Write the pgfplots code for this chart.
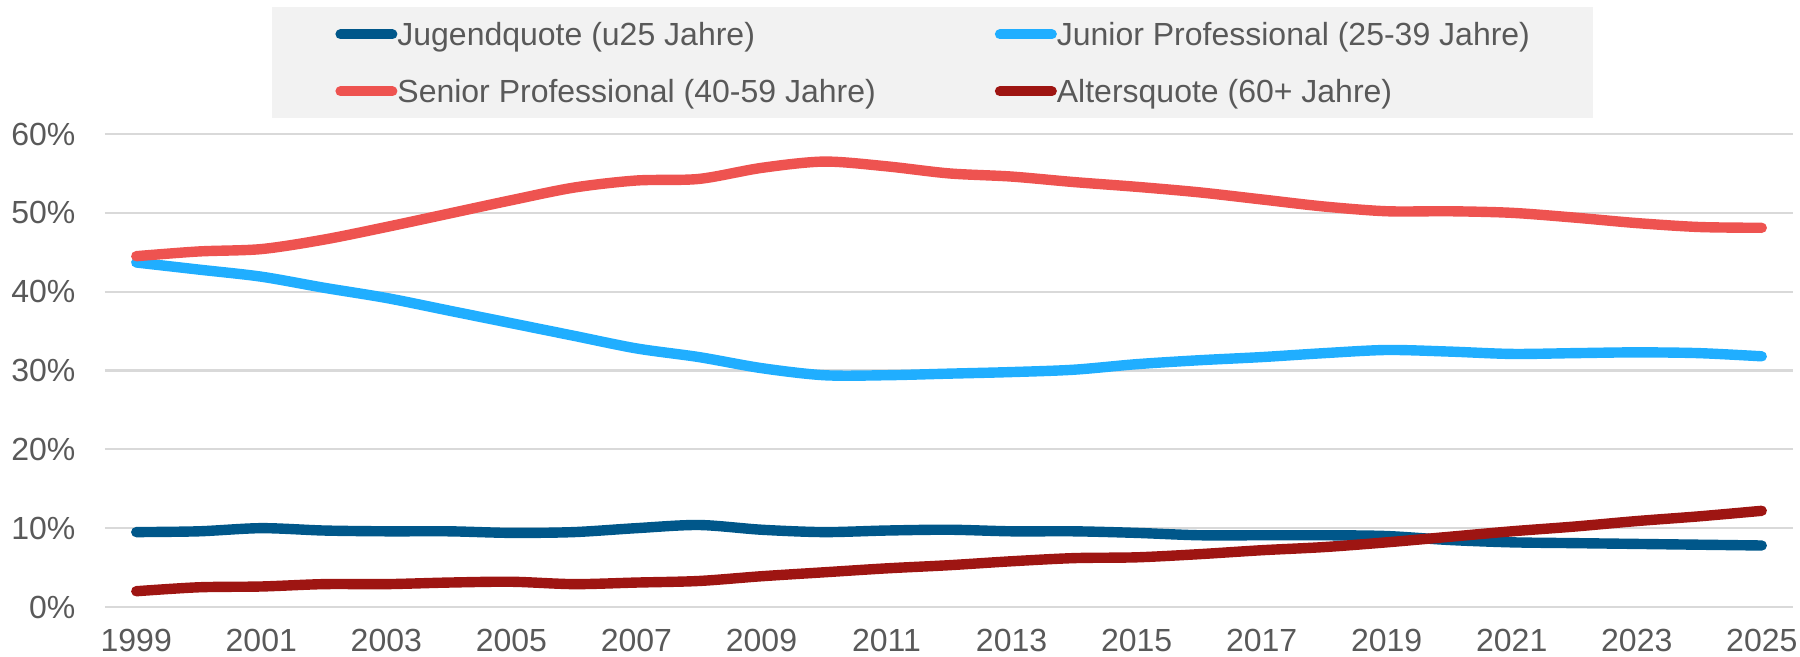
\documentclass[border=0pt]{standalone}
\usepackage{fontspec}
\setmainfont{Liberation Sans}
\usepackage{pgfplots}
\pgfplotsset{compat=1.18}
\definecolor{jug}{HTML}{00578A}
\definecolor{jun}{HTML}{20AEFF}
\definecolor{sen}{HTML}{EE5350}
\definecolor{alt}{HTML}{9E1512}
\definecolor{txt}{HTML}{595959}
\definecolor{grd}{HTML}{D9D9D9}
\definecolor{lgbg}{HTML}{F2F2F2}
\begin{document}
\begin{tikzpicture}
\path[use as bounding box] (0,0) rectangle (900pt,328.5pt);
\fill[lgbg] (135.8pt,269.5pt) rectangle (796.6pt,325.1pt);
\begin{axis}[
  at={(52.5pt,25pt)}, anchor=south west,
  scale only axis, width=844pt, height=236.5pt,
  xmin=1998.5, xmax=2025.5, ymin=0, ymax=60,
  axis lines*=left, axis line style={draw=none},
  major tick length=0pt,
  xtick={1999,2001,...,2025},
  ytick={0,10,...,60},
  ymajorgrids, grid style={grd, line width=1.1pt},
  tick label style={text=txt, font=\fontsize{16pt}{19pt}\selectfont},
  /pgf/number format/assume math mode=true,
  /pgf/number format/set thousands separator={},
  xticklabel style={anchor=north, inner ysep=0pt, yshift=-11pt},
  yticklabel style={anchor=east, inner xsep=0pt, xshift=-14.6pt},
  yticklabel={\pgfmathprintnumber{\tick}\%},
  legend columns=2,
  legend cell align=left,
  legend style={at={(0.13626,1.2529)}, anchor=north west, draw=none, fill=none,
    inner sep=0pt, row sep=8.9pt, column sep=0pt,
    font=\fontsize{16pt}{19pt}\selectfont, text=txt,
    nodes={inner xsep=0pt, text height=13.5pt, text depth=2.1pt},
    /tikz/every even column/.append style={column sep=59.5pt}},
  legend image code/.code={%
    \draw[line width=5pt, line cap=round] (2.5pt,0pt) -- (28.5pt,0pt);},
  every axis plot/.append style={line width=5.2pt, line cap=round, line join=round, smooth},
]
\addplot[jug] coordinates {
(1999,9.5)(2000,9.6)(2001,10.0)(2002,9.7)(2003,9.6)(2004,9.6)(2005,9.4)(2006,9.5)
(2007,10.0)(2008,10.4)(2009,9.8)(2010,9.5)(2011,9.7)(2012,9.8)(2013,9.6)(2014,9.6)
(2015,9.4)(2016,9.1)(2017,9.1)(2018,9.1)(2019,9.0)(2020,8.5)(2021,8.2)(2022,8.1)
(2023,8.0)(2024,7.9)(2025,7.8)};
\addlegendentry{Jugendquote (u25 Jahre)}
\addplot[jun] coordinates {
(1999,43.7)(2000,42.8)(2001,41.9)(2002,40.5)(2003,39.2)(2004,37.6)(2005,36.0)(2006,34.4)
(2007,32.8)(2008,31.7)(2009,30.3)(2010,29.4)(2011,29.4)(2012,29.6)(2013,29.8)(2014,30.1)
(2015,30.8)(2016,31.3)(2017,31.7)(2018,32.2)(2019,32.6)(2020,32.4)(2021,32.1)(2022,32.2)
(2023,32.3)(2024,32.2)(2025,31.8)};
\addlegendentry{Junior Professional (25-39 Jahre)}
\addplot[sen] coordinates {
(1999,44.5)(2000,45.1)(2001,45.4)(2002,46.6)(2003,48.2)(2004,49.9)(2005,51.6)(2006,53.2)
(2007,54.1)(2008,54.3)(2009,55.7)(2010,56.5)(2011,55.9)(2012,55.0)(2013,54.6)(2014,53.9)
(2015,53.3)(2016,52.6)(2017,51.7)(2018,50.8)(2019,50.2)(2020,50.2)(2021,50.0)(2022,49.4)
(2023,48.7)(2024,48.2)(2025,48.1)};
\addlegendentry{Senior Professional (40-59 Jahre)}
\addplot[alt] coordinates {
(1999,2.0)(2000,2.5)(2001,2.6)(2002,2.9)(2003,2.9)(2004,3.1)(2005,3.2)(2006,2.9)
(2007,3.1)(2008,3.3)(2009,3.9)(2010,4.4)(2011,4.9)(2012,5.3)(2013,5.8)(2014,6.2)
(2015,6.3)(2016,6.7)(2017,7.2)(2018,7.6)(2019,8.2)(2020,8.9)(2021,9.6)(2022,10.2)
(2023,10.9)(2024,11.5)(2025,12.2)};
\addlegendentry{Altersquote (60+ Jahre)}
\end{axis}
\end{tikzpicture}
\end{document}
